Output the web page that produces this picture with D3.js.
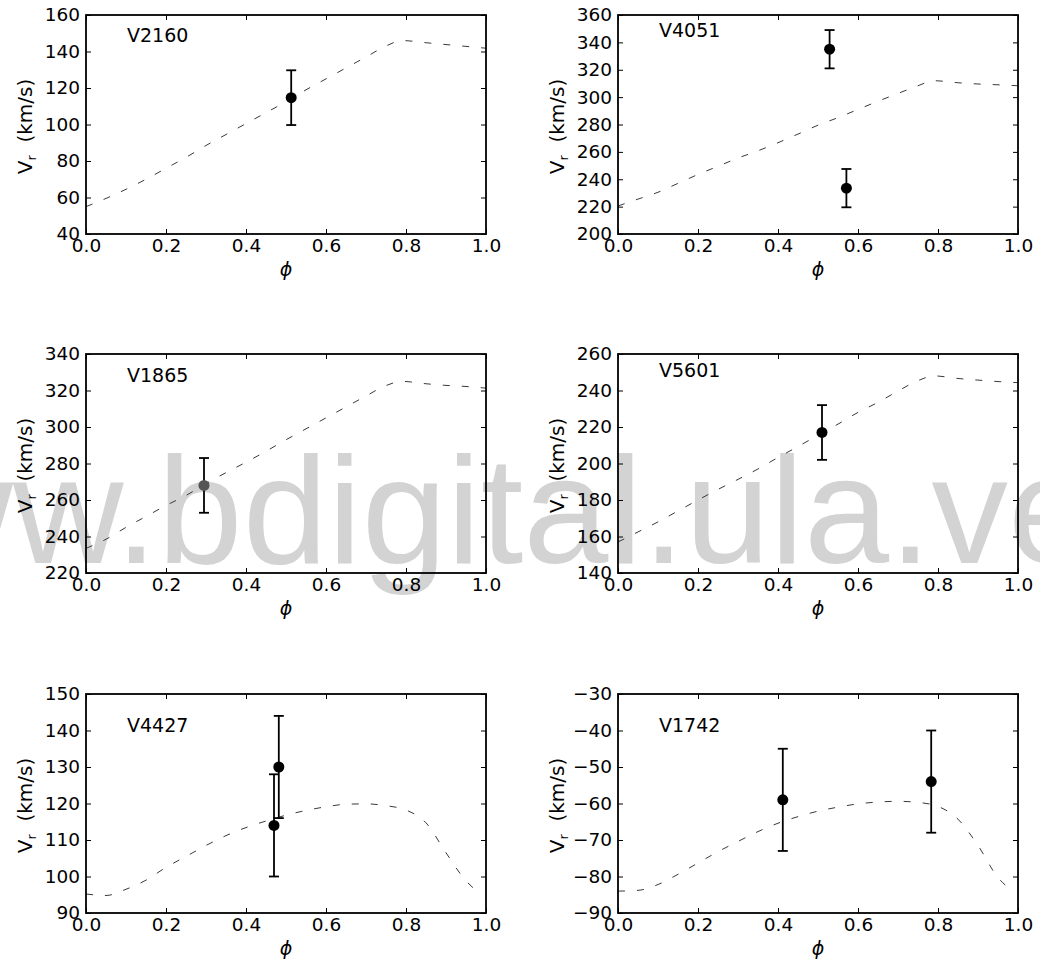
<!DOCTYPE html>
<html>
<head>
<meta charset="utf-8">
<script src="https://cdn.jsdelivr.net/npm/d3@7"></script>
<style>
  body { margin: 0; background: #fff; }
</style>
</head>
<body>
<svg width="1040" height="962"></svg>
<script>
// star names, in panel order
var stars = ["V2160", "V4051", "V1865", "V5601", "V4427", "V1742"];

// template phases (fundamental-like and the two lower stars)
var phaseFund = [0, 0.05, 0.1, 0.15, 0.2, 0.25, 0.3, 0.35, 0.4, 0.45, 0.5, 0.55, 0.6, 0.65, 0.7, 0.75, 0.79, 0.85, 0.9, 0.95, 1.0];
var phaseLow = [0, 0.05, 0.1, 0.15, 0.2, 0.25, 0.3, 0.35, 0.4, 0.45, 0.5, 0.55, 0.6, 0.65, 0.7, 0.75, 0.8, 0.85, 0.9, 0.95, 0.975];

// model velocity curves (km/s)
var modelV2160 = [55, 59.5, 64.5, 70, 76, 82, 88.5, 94.5, 100.5, 106.5, 112.5, 119, 125, 131, 137, 143, 146, 144.8, 143.8, 142.8, 141.8];
var modelV4051 = [220.5, 225.5, 230.5, 237, 243.5, 249.5, 255.5, 260.8, 266.7, 273, 279.5, 285, 291, 297, 302.7, 308.3, 312, 310.5, 309.6, 309, 308.3];
var modelV1865 = [233.5, 238.5, 245, 251, 257, 262.5, 269, 275, 280.7, 286.7, 293, 299, 305, 311, 317, 322.7, 325, 323.7, 322.8, 322.2, 321.3];
var modelV5601 = [157, 162.5, 168, 174, 180, 185.8, 191.3, 197, 203.3, 209.3, 215.5, 221.6, 228, 233.5, 239.7, 245.4, 248, 246.6, 245.7, 244.9, 244.3];
var modelV4427 = [95.2, 94.8, 96.5, 99, 102.5, 105.5, 108.5, 111.2, 113.4, 115.2, 116.8, 118.1, 119.1, 119.8, 119.9, 119.4, 118.2, 114.7, 106.5, 98.8, 96.2];
var modelV1742 = [-84, -83.8, -82.2, -79.4, -76.3, -73.2, -70.4, -67.7, -65.4, -63.6, -62.1, -61, -60.1, -59.6, -59.4, -59.7, -60.8, -64.3, -71.5, -80.3, -83];

// observed points: phase, velocity, error
var obsPhiV2160 = [0.513], obsVelV2160 = [114.7], obsErrV2160 = [15];
var obsPhiV4051 = [0.529, 0.571], obsVelV4051 = [335, 233.5], obsErrV4051 = [14, 14];
var obsPhiV1865 = [0.295], obsVelV1865 = [268], obsErrV1865 = [15];
var obsPhiV5601 = [0.51], obsVelV5601 = [217], obsErrV5601 = [15];
var obsPhiV4427 = [0.47, 0.482], obsVelV4427 = [114, 130], obsErrV4427 = [14, 14];
var obsPhiV1742 = [0.412, 0.783], obsVelV1742 = [-59, -54], obsErrV1742 = [14, 14];

// y tick labels per panel
var yTicksV2160 = [40, 60, 80, 100, 120, 140, 160];
var yTicksV4051 = [200, 220, 240, 260, 280, 300, 320, 340, 360];
var yTicksV1865 = [220, 240, 260, 280, 300, 320, 340];
var yTicksV5601 = [140, 160, 180, 200, 220, 240, 260];
var yTicksV4427 = [90, 100, 110, 120, 130, 140, 150];
var yTicksV1742 = [-90, -80, -70, -60, -50, -40, -30];
var xTicks = [0, 0.2, 0.4, 0.6, 0.8, 1.0];

(function() {
  var svg = d3.select("svg");
  var font = "'DejaVu Sans', sans-serif";

  var panels = [
    {name: stars[0], phase: phaseFund, model: modelV2160, phi: obsPhiV2160, vel: obsVelV2160, err: obsErrV2160, ticks: yTicksV2160},
    {name: stars[1], phase: phaseFund, model: modelV4051, phi: obsPhiV4051, vel: obsVelV4051, err: obsErrV4051, ticks: yTicksV4051},
    {name: stars[2], phase: phaseFund, model: modelV1865, phi: obsPhiV1865, vel: obsVelV1865, err: obsErrV1865, ticks: yTicksV1865},
    {name: stars[3], phase: phaseFund, model: modelV5601, phi: obsPhiV5601, vel: obsVelV5601, err: obsErrV5601, ticks: yTicksV5601},
    {name: stars[4], phase: phaseLow, model: modelV4427, phi: obsPhiV4427, vel: obsVelV4427, err: obsErrV4427, ticks: yTicksV4427},
    {name: stars[5], phase: phaseLow, model: modelV1742, phi: obsPhiV1742, vel: obsVelV1742, err: obsErrV1742, ticks: yTicksV1742}
  ];

  // layout
  var cols = [86, 618], rows = [15, 354, 694];
  var pw = 400, ph = 219;
  var labelDy = [27, 22, 28, 23, 38, 38];
  var markerFill = ["#000", "#000", "#555", "#000", "#000", "#000"];

  // watermark sits behind everything
  svg.append("text")
      .attr("x", -208)
      .attr("y", 563)
      .attr("fill", "#d3d3d3")
      .style("font-family", "'Liberation Sans', Arial, sans-serif")
      .style("font-size", "153px")
      .text("www.bdigital.ula.ve");

  panels.forEach(function(p, i) {
    var left = cols[i % 2], top = rows[Math.floor(i / 2)];
    var x = d3.scaleLinear().domain([0, 1]).range([left, left + pw]);
    var y = d3.scaleLinear()
        .domain([p.ticks[0], p.ticks[p.ticks.length - 1]])
        .range([top + ph, top]);

    var g = svg.append("g").attr("class", "panel");

    // model curve
    var line = d3.line()
        .curve(d3.curveMonotoneX)
        .x(function(d) { return x(d[0]); })
        .y(function(d) { return y(d[1]); });

    g.append("path")
        .datum(d3.zip(p.phase, p.model))
        .attr("fill", "none")
        .attr("stroke", "#3a3a3a")
        .attr("stroke-width", 1)
        .attr("stroke-dasharray", "7,12")
        .attr("d", line);

    // error bars
    var obs = d3.zip(p.phi, p.vel, p.err);
    var eb = g.selectAll(".obs")
      .data(obs)
      .enter().append("g")
        .attr("class", "obs")
        .attr("stroke", "#000")
        .attr("stroke-width", 1.8);

    eb.append("line")
        .attr("x1", function(d) { return x(d[0]); })
        .attr("x2", function(d) { return x(d[0]); })
        .attr("y1", function(d) { return y(d[1] - d[2]); })
        .attr("y2", function(d) { return y(d[1] + d[2]); });
    [-1, 1].forEach(function(s) {
      eb.append("line")
          .attr("x1", function(d) { return x(d[0]) - 5; })
          .attr("x2", function(d) { return x(d[0]) + 5; })
          .attr("y1", function(d) { return y(d[1] + s * d[2]); })
          .attr("y2", function(d) { return y(d[1] + s * d[2]); });
    });
    eb.append("circle")
        .attr("cx", function(d) { return x(d[0]); })
        .attr("cy", function(d) { return y(d[1]); })
        .attr("r", 5.5)
        .attr("stroke", "none")
        .attr("fill", markerFill[i]);

    // axes, ticks pointing inward
    var ax = g.append("g")
        .attr("transform", "translate(" + left + ",0)")
        .call(d3.axisLeft(y).tickValues(p.ticks).tickSize(-5).tickPadding(6));
    var ax2 = g.append("g")
        .attr("transform", "translate(" + (left + pw) + ",0)")
        .call(d3.axisRight(y).tickValues(p.ticks).tickSize(-5).tickFormat(""));
    var ax3 = g.append("g")
        .attr("transform", "translate(0," + top + ")")
        .call(d3.axisTop(x).tickValues(xTicks).tickSize(-5).tickFormat(""));
    var ax4 = g.append("g")
        .attr("transform", "translate(0," + (top + ph) + ")")
        .call(d3.axisBottom(x).tickValues(xTicks).tickSize(-5).tickPadding(5).tickFormat(d3.format(".1f")));

    [ax, ax2, ax3, ax4].forEach(function(a) {
      a.attr("font-size", 18.5).attr("font-family", font);
      a.select(".domain").remove();
      a.selectAll(".tick text").attr("fill", "#000");
    });

    // frame
    g.append("rect")
        .attr("x", left)
        .attr("y", top)
        .attr("width", pw)
        .attr("height", ph)
        .attr("fill", "none")
        .attr("stroke", "#000")
        .attr("stroke-width", 1.8);

    // star name
    g.append("text")
        .attr("x", left + 41)
        .attr("y", top + labelDy[i])
        .attr("font-family", font)
        .attr("font-size", 19)
        .text(p.name);

    // x label
    g.append("text")
        .attr("x", left + pw / 2)
        .attr("y", top + ph + 42)
        .attr("text-anchor", "middle")
        .attr("font-family", font)
        .attr("font-style", "italic")
        .attr("font-size", 19)
        .text("\u03d5");

    // y label
    var yl = g.append("text")
        .attr("transform", "translate(" + (left - 54) + "," + (top + ph / 2 + 2) + ") rotate(-90)")
        .attr("text-anchor", "middle")
        .attr("font-family", font)
        .attr("font-size", 20);
    yl.append("tspan").text("V");
    yl.append("tspan").attr("font-size", 13).attr("dy", 4).text("r");
    yl.append("tspan").attr("dy", -4).text("\u00a0\u00a0(km/s)");
  });
})();
</script>
</body>
</html>
